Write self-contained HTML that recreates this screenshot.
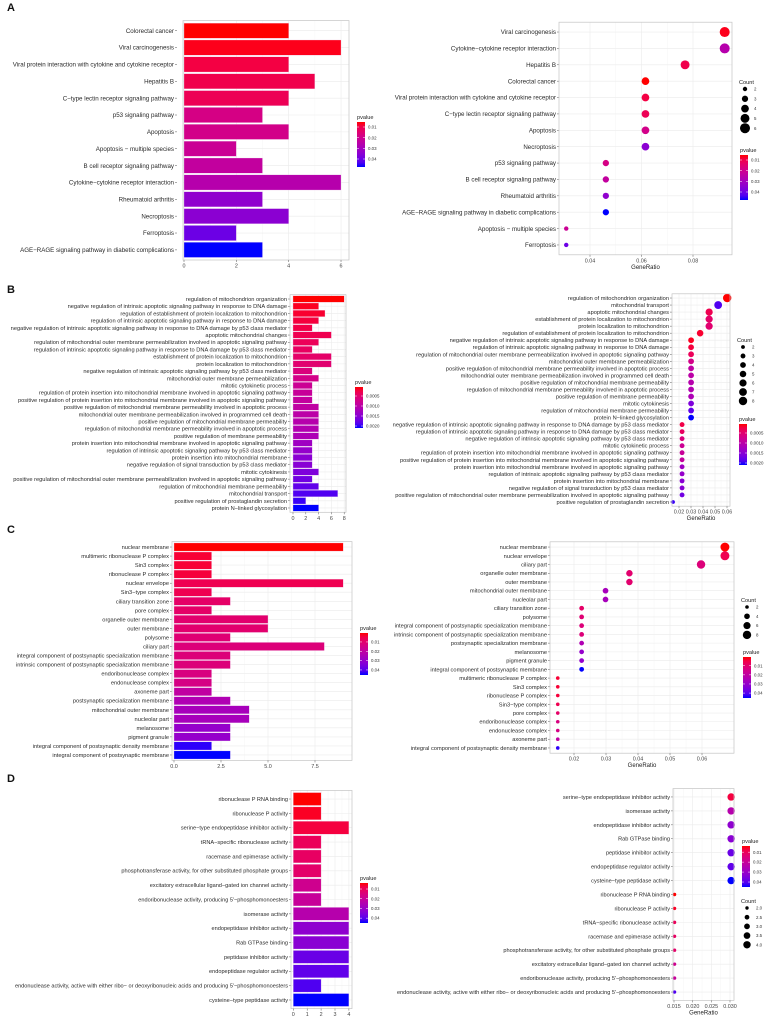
<!DOCTYPE html>
<html><head><meta charset="utf-8"><style>
html,body{margin:0;padding:0;background:#fff;}
svg{display:block;font-family:"Liberation Sans",sans-serif;}
</style></head><body>
<svg id="fig" width="773" height="1025" viewBox="0 0 773 1025"></svg>
<script>
// ---------- DATA ----------
const aTerms=["Colorectal cancer","Viral carcinogenesis","Viral protein interaction with cytokine and cytokine receptor","Hepatitis B","C\u2212type lectin receptor signaling pathway","p53 signaling pathway","Apoptosis","Apoptosis \u2212 multiple species","B cell receptor signaling pathway","Cytokine\u2212cytokine receptor interaction","Rheumatoid arthritis","Necroptosis","Ferroptosis","AGE\u2212RAGE signaling pathway in diabetic complications"];
const aCounts=[4,6,4,5,4,3,4,2,3,6,3,4,2,3];
const aPvals=[0.0053,0.006,0.009,0.01,0.011,0.018,0.019,0.021,0.023,0.026,0.034,0.035,0.04,0.0475];
const aTotal=65;
const aBarTicks=[0,2,4,6];
const aRatioTicks=[0.04,0.06,0.08];
const aPBreaks=[0.01,0.02,0.03,0.04];
const aCountBreaks=[2,3,4,5,6];

const bTerms=["regulation of mitochondrion organization","negative regulation of intrinsic apoptotic signaling pathway in response to DNA damage","regulation of establishment of protein localization to mitochondrion","regulation of intrinsic apoptotic signaling pathway in response to DNA damage","negative regulation of intrinsic apoptotic signaling pathway in response to DNA damage by p53 class mediator","apoptotic mitochondrial changes","regulation of mitochondrial outer membrane permeabilization involved in apoptotic signaling pathway","regulation of intrinsic apoptotic signaling pathway in response to DNA damage by p53 class mediator","establishment of protein localization to mitochondrion","protein localization to mitochondrion","negative regulation of intrinsic apoptotic signaling pathway by p53 class mediator","mitochondrial outer membrane permeabilization","mitotic cytokinetic process","regulation of protein insertion into mitochondrial membrane involved in apoptotic signaling pathway","positive regulation of protein insertion into mitochondrial membrane involved in apoptotic signaling pathway","positive regulation of mitochondrial membrane permeability involved in apoptotic process","mitochondrial outer membrane permeabilization involved in programmed cell death","positive regulation of mitochondrial membrane permeability","regulation of mitochondrial membrane permeability involved in apoptotic process","positive regulation of membrane permeability","protein insertion into mitochondrial membrane involved in apoptotic signaling pathway","regulation of intrinsic apoptotic signaling pathway by p53 class mediator","protein insertion into mitochondrial membrane","negative regulation of signal transduction by p53 class mediator","mitotic cytokinesis","positive regulation of mitochondrial outer membrane permeabilization involved in apoptotic signaling pathway","regulation of mitochondrial membrane permeability","mitochondrial transport","positive regulation of prostaglandin secretion","protein N\u2212linked glycosylation"];
const bCounts=[8,4,5,4,3,6,4,3,6,6,3,4,3,3,3,4,4,4,4,4,3,3,3,3,4,3,4,7,2,4];
const bPvals=[0.00005,0.0001,0.00015,0.0002,0.00025,0.0003,0.00035,0.0004,0.00045,0.0005,0.0006,0.0007,0.0008,0.00085,0.0009,0.00095,0.001,0.00105,0.0011,0.00115,0.0013,0.0014,0.0015,0.00152,0.0016,0.0017,0.0018,0.0019,0.002,0.0021];
const bTotal=133;
const bBarTicks=[0,2,4,6,8];
const bRatioTicks=[0.02,0.03,0.04,0.05,0.06];
const bPBreaks=[0.0005,0.0010,0.0015,0.0020];
const bCountBreaks=[2,3,4,5,6,7,8];

const cTerms=["nuclear membrane","multimeric ribonuclease P complex","Sin3 complex","ribonuclease P complex","nuclear envelope","Sin3\u2212type complex","ciliary transition zone","pore complex","organelle outer membrane","outer membrane","polysome","ciliary part","integral component of postsynaptic specialization membrane","intrinsic component of postsynaptic specialization membrane","endoribonuclease complex","endonuclease complex","axoneme part","postsynaptic specialization membrane","mitochondrial outer membrane","nucleolar part","melanosome","pigment granule","integral component of postsynaptic density membrane","integral component of postsynaptic membrane"];
const cCounts=[9,2,2,2,9,2,3,2,5,5,3,8,3,3,2,2,2,3,4,4,3,3,2,3];
const cPvals=[0.0004,0.003,0.003,0.0035,0.006,0.006,0.009,0.009,0.01,0.01,0.011,0.012,0.012,0.012,0.013,0.014,0.02,0.024,0.026,0.026,0.03,0.03,0.044,0.0454];
const cTotal=134;
const cBarTicks=[0,2.5,5,7.5];
const cBarTickLabels=["0.0","2.5","5.0","7.5"];
const cRatioTicks=[0.02,0.03,0.04,0.05,0.06];
const cPBreaks=[0.01,0.02,0.03,0.04];
const cCountBreaks=[2,4,6,8];

const dTerms=["ribonuclease P RNA binding","ribonuclease P activity","serine\u2212type endopeptidase inhibitor activity","tRNA\u2212specific ribonuclease activity","racemase and epimerase activity","phosphotransferase activity, for other substituted phosphate groups","excitatory extracellular ligand\u2212gated ion channel activity","endoribonuclease activity, producing 5'\u2212phosphomonoesters","isomerase activity","endopeptidase inhibitor activity","Rab GTPase binding","peptidase inhibitor activity","endopeptidase regulator activity","endonuclease activity, active with either ribo\u2212 or deoxyribonucleic acids and producing 5'\u2212phosphomonoesters","cysteine\u2212type peptidase activity"];
const dCounts=[2,2,4,2,2,2,2,2,4,4,4,4,4,2,4];
const dPvals=[0.0038,0.005,0.007,0.01,0.011,0.012,0.018,0.02,0.024,0.032,0.033,0.038,0.039,0.041,0.045];
const dTotal=132;
const dBarTicks=[0,1,2,3,4];
const dRatioTicks=[0.015,0.020,0.025,0.030];
const dPBreaks=[0.01,0.02,0.03,0.04];
const dCountBreaks=[2.0,2.5,3.0,3.5,4.0];

// ---------- HELPERS ----------
const NS="http://www.w3.org/2000/svg";
const svg=document.getElementById('fig');
function mk(tag,attrs,parent){const e=document.createElementNS(NS,tag);for(const k in attrs)e.setAttribute(k,attrs[k]);(parent||svg).appendChild(e);return e;}
function col(p,pmin,pmax){let t=(p-pmin)/(pmax-pmin);t=Math.max(0,Math.min(1,t));const r=Math.round(255*Math.pow(1-t,0.5));const b=Math.round(255*Math.pow(t,0.55));return `rgb(${r},0,${b})`;}
function txt(g,x,y,s,size,anchor,fill){const t=mk('text',{x:x,y:y,'font-size':size,'text-anchor':anchor||'start',fill:fill||'#333'},g);t.textContent=s;return t;}
let gradId=0;
function colorbar(g,x,y0,y1,pmin,pmax,breaks,fmt){
  const id='grad'+(gradId++);
  const defs=mk('defs',{},g);const lg=mk('linearGradient',{id:id,x1:0,y1:0,x2:0,y2:1},defs);
  for(let i=0;i<=10;i++){mk('stop',{offset:(i*10)+'%','stop-color':col(pmin+(pmax-pmin)*i/10,pmin,pmax)},lg);}
  const r=mk('rect',{x:x,y:y0,width:8,height:y1-y0,fill:`url(#${id})`},g);
  
  
  txt(g,x,y0-3,'pvalue',5.6,'start','#222');
  breaks.forEach(b=>{const yy=y0+(b-pmin)/(pmax-pmin)*(y1-y0);
    mk('line',{x1:x,x2:x+2,y1:yy,y2:yy,stroke:'#fff','stroke-width':0.5},g);
    mk('line',{x1:x+6,x2:x+8,y1:yy,y2:yy,stroke:'#fff','stroke-width':0.5},g);
    const t=txt(g,x+11,yy+1.6,fmt(b),4.4,'start','#333');
    
    });
}
function frame(g,L,R,T,B){mk('rect',{x:L,y:T,width:R-L,height:B-T,fill:'#fff'},g);}
function border(g,L,R,T,B){mk('rect',{x:L,y:T,width:R-L,height:B-T,fill:'none',stroke:'#C4C4C4','stroke-width':0.7},g);}

function barPanel(name,terms,counts,pvals,ticks,tickLabels,geo,pmin,pmax,breaks,fmt,fs){
  const g=mk('g',{});
  const n=terms.length,step=(geo.B-geo.T)/(n+0.2);
  const xs=v=>geo.x0+v*geo.k;
  const off=geo.off||3;
  frame(g,geo.L,geo.R,geo.T,geo.B);
  for(let i=0;i<ticks.length;i++){mk('line',{x1:xs(ticks[i]),x2:xs(ticks[i]),y1:geo.T,y2:geo.B,stroke:'#EBEBEB','stroke-width':0.6},g);
    if(i<ticks.length-1){const m=(ticks[i]+ticks[i+1])/2;mk('line',{x1:xs(m),x2:xs(m),y1:geo.T,y2:geo.B,stroke:'#F4F4F4','stroke-width':0.4},g);}}
  terms.forEach((t,i)=>{const cy=geo.T+(0.6+i)*step;
    mk('line',{x1:geo.L,x2:geo.R,y1:cy,y2:cy,stroke:'#EBEBEB','stroke-width':0.6},g);
    const r=mk('rect',{x:xs(0),y:cy-0.45*step,width:xs(counts[i])-xs(0),height:0.9*step,fill:col(pvals[i],pmin,pmax),stroke:'#f0d8f0','stroke-width':0.3},g);
    
    
    mk('line',{x1:geo.L-off+1,x2:geo.L-off+3,y1:cy,y2:cy,stroke:'#555','stroke-width':0.5},g);
    const l=txt(g,geo.L-off,cy+fs*0.35,t,fs,'end','#2a2a2a');
    
    });
  border(g,geo.L,geo.R,geo.T,geo.B);
  ticks.forEach((v,i)=>{mk('line',{x1:xs(v),x2:xs(v),y1:geo.B,y2:geo.B+2,stroke:'#555','stroke-width':0.5},g);
    const l=txt(g,xs(v),geo.B+7.5,tickLabels[i],5.4,'middle','#444');
    
    });
  colorbar(g,geo.lx,geo.ly0,geo.ly1,pmin,pmax,breaks,fmt);
}

function dotPanel(name,terms,counts,pvals,total,ticks,tickLabels,geo,pmin,pmax,breaks,fmt,countBreaks,fs,countFmt){
  const g=mk('g',{});
  const idx=terms.map((t,i)=>i).sort((a,b)=>(counts[b]-counts[a])||(a-b));
  const n=terms.length,step=(geo.B-geo.T)/(n+0.2);
  const xs=r=>geo.x0+(r-geo.r0)*geo.k;
  const cmin=Math.min(...countBreaks),cmax=Math.max(...countBreaks);
  const rad=c=>Math.sqrt(geo.rmin*geo.rmin+(geo.rmax*geo.rmax-geo.rmin*geo.rmin)*(c-cmin)/(cmax-cmin));
  frame(g,geo.L,geo.R,geo.T,geo.B);
  for(let i=0;i<ticks.length;i++){mk('line',{x1:xs(ticks[i]),x2:xs(ticks[i]),y1:geo.T,y2:geo.B,stroke:'#EBEBEB','stroke-width':0.6},g);
    if(i<ticks.length-1){const m=(ticks[i]+ticks[i+1])/2;mk('line',{x1:xs(m),x2:xs(m),y1:geo.T,y2:geo.B,stroke:'#F4F4F4','stroke-width':0.4},g);}}
  idx.forEach((k,i)=>{const cy=geo.T+(0.6+i)*step;
    mk('line',{x1:geo.L,x2:geo.R,y1:cy,y2:cy,stroke:'#EBEBEB','stroke-width':0.6},g);
    mk('line',{x1:geo.L-2,x2:geo.L,y1:cy,y2:cy,stroke:'#555','stroke-width':0.5},g);
    const l=txt(g,geo.L-3,cy+fs*0.35,terms[k],fs,'end','#2a2a2a');
    
    });
  idx.forEach((k,i)=>{const cy=geo.T+(0.6+i)*step;
    const c=mk('circle',{cx:xs(counts[k]/total),cy:cy,r:rad(counts[k]),fill:col(pvals[k],pmin,pmax)},g);
    
    });
  border(g,geo.L,geo.R,geo.T,geo.B);
  ticks.forEach((v,i)=>{mk('line',{x1:xs(v),x2:xs(v),y1:geo.B,y2:geo.B+2,stroke:'#555','stroke-width':0.5},g);
    const l=txt(g,xs(v),geo.B+7.5,tickLabels[i],5.4,'middle','#444');
    
    });
  const at=txt(g,(geo.L+geo.R)/2,geo.B+14,'GeneRatio',6,'middle','#222');
  
  
  colorbar(g,geo.lx,geo.ly0,geo.ly1,pmin,pmax,breaks,fmt);
  txt(g,geo.cx,geo.cy0-5,'Count',5.6,'start','#222');
  countBreaks.forEach((c,i)=>{const yy=geo.cy0+i*geo.cstep;
    const d=mk('circle',{cx:geo.cx+6,cy:yy,r:rad(c),fill:'#000'},g);
    
    
    txt(g,geo.cx+15,yy+1.6,countFmt(c),4.4,'start','#333');});
}
const f2=v=>v.toFixed(2), f4=v=>v.toFixed(4), f1=v=>v.toFixed(1), f0=v=>String(v);

// panel letters
[['A',11],['B',293],['C',533],['D',782]].forEach(([s,y])=>{const t=txt(svg,7,y,s,11,'start','#111');t.setAttribute('font-weight','bold');
  
  });

barPanel('panel-a-bar',aTerms,aCounts,aPvals,aBarTicks,aBarTicks.map(f0),{L:183,R:349,T:20.6,B:260,x0:184,k:26.17,lx:357,ly0:122,ly1:167,off:9},0.0053,0.0475,aPBreaks,f2,6.2);
dotPanel('panel-a-dot',aTerms,aCounts,aPvals,aTotal,aRatioTicks,aRatioTicks.map(f2),{L:559,R:732,T:22.2,B:254.8,x0:590,r0:0.04,k:2575,rmin:2.2,rmax:5,lx:740,ly0:155,ly1:200,cx:739,cy0:89,cstep:9.8},0.0053,0.0475,aPBreaks,f2,aCountBreaks,6.2,f0);

barPanel('panel-b-bar',bTerms,bCounts,bPvals,bBarTicks,bBarTicks.map(f0),{L:290,R:346,T:294.7,B:512.3,x0:293,k:6.4,lx:355,ly0:387,ly1:428},0.00005,0.0021,bPBreaks,f4,5.7);
dotPanel('panel-b-dot',bTerms,bCounts,bPvals,bTotal,bRatioTicks,bRatioTicks.map(f2),{L:672,R:730,T:293.8,B:506.2,x0:679,r0:0.02,k:1200,rmin:1.9,rmax:4.2,lx:739,ly0:424,ly1:465,cx:737,cy0:347,cstep:9},0.00005,0.0021,bPBreaks,f4,bCountBreaks,5.7,f0);

barPanel('panel-c-bar',cTerms,cCounts,cPvals,cBarTicks,cBarTickLabels,{L:172,R:352,T:541.6,B:760.4,x0:174,k:18.8,lx:360,ly0:633,ly1:675},0.0004,0.0454,cPBreaks,f2,5.7);
dotPanel('panel-c-dot',cTerms,cCounts,cPvals,cTotal,cRatioTicks,cRatioTicks.map(f2),{L:550,R:734,T:541.8,B:753.2,x0:574,r0:0.02,k:3200,rmin:1.8,rmax:4.2,lx:743,ly0:657,ly1:698,cx:741,cy0:607,cstep:9.3},0.0004,0.0454,cPBreaks,f2,cCountBreaks,5.7,f0);

barPanel('panel-d-bar',dTerms,dCounts,dPvals,dBarTicks,dBarTicks.map(f0),{L:291,R:352,T:790.4,B:1008.6,x0:293.3,k:13.9,lx:360,ly0:883,ly1:923},0.0038,0.045,dPBreaks,f2,5.6);
dotPanel('panel-d-dot',dTerms,dCounts,dPvals,dTotal,dRatioTicks,dRatioTicks.map(v=>v.toFixed(3)),{L:673,R:734,T:788.6,B:1000.4,x0:674,r0:0.015,k:3733,rmin:1.7,rmax:3.7,lx:742,ly0:846,ly1:887,cx:741,cy0:908,cstep:9.2},0.0038,0.045,dPBreaks,f2,dCountBreaks,5.6,f1);
</script>
</body></html>
